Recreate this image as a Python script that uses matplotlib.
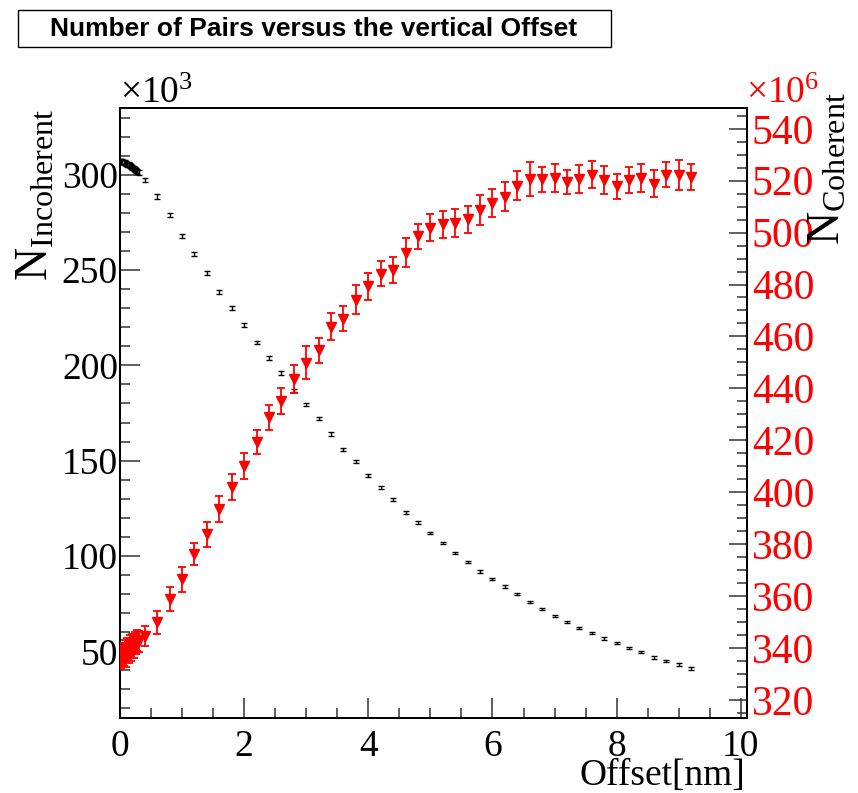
import matplotlib
matplotlib.use("Agg")
import matplotlib.pyplot as plt
from matplotlib.patches import Rectangle

plt.rcParams["font.family"] = ["Liberation Serif", "DejaVu Serif"]
plt.rcParams["mathtext.fontset"] = "custom"
plt.rcParams["mathtext.rm"] = "Liberation Serif"
plt.rcParams["mathtext.it"] = "Liberation Serif:italic"

# --- incoherent pairs (x10^3), black ---
offset_inc = [0.00, 0.02, 0.04, 0.06, 0.08, 0.10, 0.12, 0.14, 0.16, 0.18,
              0.20, 0.22, 0.24, 0.26, 0.28, 0.30,
              0.4, 0.6, 0.8, 1.0, 1.2, 1.4, 1.6, 1.8, 2.0, 2.2, 2.4, 2.6,
              2.8, 3.0, 3.2, 3.4, 3.6, 3.8, 4.0, 4.2, 4.4, 4.6, 4.8, 5.0,
              5.2, 5.4, 5.6, 5.8, 6.0, 6.2, 6.4, 6.6, 6.8, 7.0, 7.2, 7.4,
              7.6, 7.8, 8.0, 8.2, 8.4, 8.6, 8.8, 9.0, 9.2]
n_inc = [307.0, 306.9, 306.8, 306.6, 306.3, 306.0, 305.6, 305.2, 304.8, 304.3,
         303.8, 303.3, 302.7, 302.2, 301.6, 301.0,
         297.2, 288.6, 278.8, 268.0, 258.3, 248.4, 238.6, 230.2, 221.0, 212.0,
         204.0, 196.0, 186.8, 179.5, 172.0, 164.0, 156.0, 149.5, 142.0, 136.0,
         129.5, 123.0, 117.5, 112.0, 106.8, 101.6, 96.8, 92.0, 88.0, 84.0,
         80.0, 76.0, 72.0, 68.4, 65.3, 62.3, 59.6, 56.7, 54.2, 51.8, 49.5,
         46.8, 44.9, 43.0, 40.9]
err_inc = [1.3] * 16 + [1.2, 1.2, 1.2, 1.1, 1.1, 1.1, 1.0, 1.0, 1.0, 1.0,
                        1.0, 0.9, 0.9, 0.9, 0.9, 0.9, 0.8, 0.8, 0.8, 0.8,
                        0.8, 0.8, 0.7, 0.7, 0.7, 0.7, 0.7, 0.7, 0.7, 0.7,
                        0.7, 0.6, 0.6, 0.6, 0.6, 0.6, 0.6, 0.6, 0.6, 0.6,
                        0.6, 0.6, 0.6, 0.6, 0.6]

# --- coherent pairs (x10^6), red ---
offset_coh = offset_inc
n_coh = [337.5, 336.0, 338.0, 337.0, 339.0, 336.5, 340.0, 338.0, 341.0, 339.0,
         341.5, 340.0, 342.0, 341.5, 343.0, 342.5,
         344.6, 349.9, 359.0, 366.5, 376.2, 383.7, 393.5, 401.9, 410.0, 419.2,
         428.8, 435.3, 443.6, 449.9, 454.7, 463.8, 466.8, 474.2, 479.3, 484.2,
         485.6, 492.3, 498.5, 501.9, 503.2, 503.7, 505.1, 508.7, 511.5, 513.8,
         518.0, 520.7, 520.5, 521.0, 519.6, 520.7, 522.3, 520.3, 517.8, 520.3,
         521.0, 518.8, 522.3, 522.3, 521.4]
err_coh = [4.0] * 16 + [4.0, 4.5, 4.6, 4.8, 4.4, 4.7, 5.1, 5.0, 4.9, 4.6,
                        4.7, 5.0, 5.3, 6.4, 4.8, 5.1, 4.9, 5.7, 5.1, 4.7,
                        4.9, 5.7, 4.9, 5.1, 5.1, 5.3, 5.3, 5.6, 5.4, 5.5,
                        5.6, 6.5, 4.7, 5.3, 4.7, 5.4, 5.3, 5.4, 4.9, 5.0,
                        5.4, 5.2, 4.9, 5.8, 5.0]

W, H = 858, 793
fig = plt.figure(figsize=(W / 100, H / 100), dpi=100)
ax = fig.add_axes([120 / W, 1 - 718 / H, (747 - 120) / W, (718 - 108) / H])
ax2 = ax.twinx()

ax.errorbar(offset_inc, n_inc, yerr=err_inc, fmt="none", ecolor="black",
            elinewidth=1.0, capsize=2.2, capthick=1.0, zorder=3)
ax2.errorbar(offset_coh, n_coh, yerr=err_coh, fmt="v", color="red", ms=6.5,
             ecolor="red", elinewidth=1.3, capsize=2.6, capthick=1.3, zorder=3)

ax.set_xlim(0, 10.1)
ax.set_ylim(15, 335)
ax2.set_ylim(313, 548)

ax.set_xticks([0, 2, 4, 6, 8, 10])
ax.set_xticks([i * 0.5 for i in range(21)], minor=True)
ax.set_yticks([50, 100, 150, 200, 250, 300])
ax.set_yticks(list(range(20, 335, 10)), minor=True)
ax2.set_yticks(list(range(320, 541, 20)))
ax2.set_yticks(list(range(315, 548, 5)), minor=True)

for a in (ax, ax2):
    for s in a.spines.values():
        s.set_linewidth(1.3)
ax.tick_params(which="both", direction="in", top=False, right=False,
               labelsize=27, width=1.1, color="#333333")
ax.tick_params(which="major", length=14.5)
ax.tick_params(which="minor", length=7)
ax.tick_params(axis="y", pad=1.5)
ax.tick_params(axis="x", pad=8.0)
ax2.tick_params(which="both", direction="in", labelsize=30, width=1.1,
                color="#333333", labelcolor="red", pad=3.5)
ax2.tick_params(which="major", length=13)
ax2.tick_params(which="minor", length=7)

# exponents, axis titles
fig.text(120 / W, 1 - 103 / H, r"×$\mathrm{10}^{3}$", fontsize=27,
         ha="left", va="baseline")
fig.text(746 / W, 1 - 103 / H, r"×$\mathrm{10}^{6}$", fontsize=27,
         color="red", ha="left", va="baseline")
fig.text(745 / W, 1 - 785 / H, "Offset[nm]", fontsize=27,
         ha="right", va="baseline")
fig.text(36 / W, 1 - 108 / H, r"$\mathrm{N}_{\mathrm{Incoherent}}$",
         fontsize=33, rotation=90, ha="center", va="top")
fig.text(828 / W, 1 - 92 / H, r"$\mathrm{N}_{\mathrm{Coherent}}$",
         fontsize=33, rotation=90, ha="center", va="top")

# title box
fig.patches.append(Rectangle((18 / W, 1 - 47 / H), (611 - 18) / W, 37 / H,
                             transform=fig.transFigure, fill=False,
                             edgecolor="black", linewidth=1.0))
fig.text(314 / W, 1 - 29 / H, "Number of Pairs versus the vertical Offset",
         fontsize=19, fontweight="bold", family="Liberation Sans",
         ha="center", va="center")

fig.savefig("out.png", dpi=100)
